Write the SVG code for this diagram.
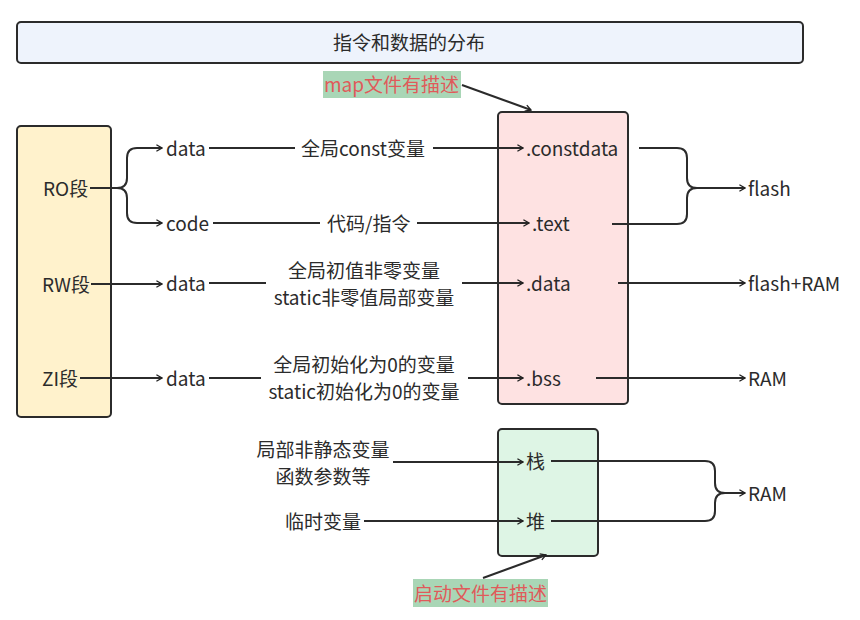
<svg xmlns="http://www.w3.org/2000/svg" width="860" height="620" viewBox="0 0 860 620">
<defs>
<marker id="arr" viewBox="0 0 10 10" refX="9" refY="5" markerWidth="8" markerHeight="8" markerUnits="userSpaceOnUse" orient="auto">
<path d="M2,1 L9,5 L2,9" fill="none" stroke="#222" stroke-width="1.6"/>
</marker>
</defs>
<style>
text{font-family:"Noto Sans CJK SC","Noto Sans",sans-serif;font-size:19px;fill:#2b2b2b;dominant-baseline:central}
.box{stroke:#2b2b2b;stroke-width:2}
.c{fill:none;stroke:#2b2b2b;stroke-width:2}
.a{marker-end:url(#arr)}
.note{fill:#e05a5a}
.notebg{fill:#a9d6b6}
.m{text-anchor:middle}
</style>
<rect width="860" height="620" fill="#ffffff"/>
<g id="title">
<rect class="box" x="17" y="22" width="786" height="41" rx="4" fill="#eef3fc"/>
<text class="m" x="409" y="41">指令和数据的分布</text>
</g>
<g id="map-note">
<rect class="notebg" x="323" y="71" width="138" height="27"/>
<text class="note" x="324" y="83">map文件有描述</text>
</g>
<g id="startup-note">
<rect class="notebg" x="413" y="579" width="135" height="28"/>
<text class="note" x="414" y="592">启动文件有描述</text>
</g>
<g id="segments">
<rect class="box" x="17" y="126" width="94" height="291" rx="4" fill="#fff2cc"/>
<text x="43" y="187">RO段</text>
<text x="42" y="283">RW段</text>
<text x="42" y="377">ZI段</text>
</g>
<g id="sections">
<rect class="box" x="498" y="112" width="130" height="292" rx="4" fill="#fee2e2"/>
<text x="526" y="147">.constdata</text>
<text x="532" y="222">.text</text>
<text x="526" y="282">.data</text>
<text x="526" y="377">.bss</text>
</g>
<g id="stackheap">
<rect class="box" x="498" y="429" width="100" height="127" rx="4" fill="#def5e5"/>
<text x="526" y="460">栈</text>
<text x="526" y="520">堆</text>
</g>
<g id="labels">
<text x="166" y="147">data</text>
<text x="166" y="222">code</text>
<text x="166" y="282">data</text>
<text x="166" y="377">data</text>
<text x="301" y="147">全局const变量</text>
<text x="327" y="222">代码/指令</text>
<text class="m" x="364" y="269">全局初值非零变量</text>
<text class="m" x="364" y="296">static非零值局部变量</text>
<text class="m" x="364" y="363">全局初始化为0的变量</text>
<text class="m" x="364" y="390">static初始化为0的变量</text>
<text class="m" x="323" y="448">局部非静态变量</text>
<text class="m" x="323" y="475">函数参数等</text>
<text x="285" y="520">临时变量</text>
<text x="748" y="187">flash</text>
<text x="748" y="282">flash+RAM</text>
<text x="748" y="377">RAM</text>
<text x="748" y="492">RAM</text>
</g>
<g id="connectors">
<path class="c a" d="M462,85 L531,110"/>
<path class="c a" d="M483,578 L546,555"/>
<path class="c a" d="M90,188 H117 Q127,188 127,178 V158 Q127,148 137,148 H162"/>
<path class="c a" d="M117,188 Q127,188 127,198 V213 Q127,223 137,223 H162"/>
<path class="c a" d="M91,284 H162"/>
<path class="c a" d="M80,378 H162"/>
<path class="c" d="M209,148 H295"/>
<path class="c a" d="M433,148 H523"/>
<path class="c" d="M213,223 H320"/>
<path class="c a" d="M417,223 H529"/>
<path class="c" d="M209,283 H266"/>
<path class="c a" d="M462,283 H523"/>
<path class="c" d="M209,378 H261"/>
<path class="c a" d="M468,378 H523"/>
<path class="c a" d="M393,462 H523"/>
<path class="c a" d="M364,521 H523"/>
<path class="c" d="M639,148 H677 Q687,148 687,158 V178 Q687,188 697,188"/>
<path class="c a" d="M612,224 H677 Q687,224 687,214 V198 Q687,188 697,188 H745"/>
<path class="c a" d="M618,283 H745"/>
<path class="c a" d="M596,378 H745"/>
<path class="c" d="M551,461 H705 Q715,461 715,471 V483 Q715,493 725,493"/>
<path class="c a" d="M551,521 H705 Q715,521 715,511 V503 Q715,493 725,493 H745"/>
</g>
</svg>
